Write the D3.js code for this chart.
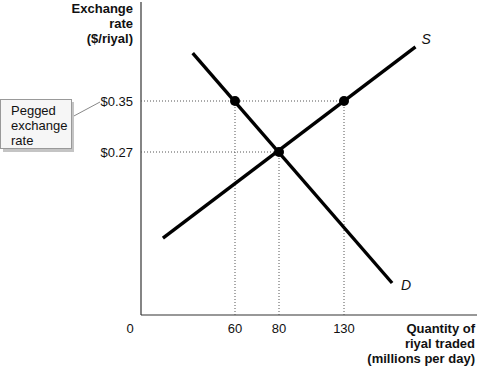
<!DOCTYPE html>
<html>
<head>
<meta charset="utf-8">
<script src="https://cdn.jsdelivr.net/npm/d3@7"></script>
<style>
  body { margin: 0; background: #fff; }
  text { font-family: "Liberation Sans", Arial, Helvetica, sans-serif; fill: #111; }
</style>
</head>
<body>
<svg id="chart" width="477" height="368"></svg>
<script>
// quantity ticks (millions per day) and price ticks ($/riyal)
var qTicks = [60, 80, 130];
var pTicks = [0.27, 0.35];
var pLabels = ["$0.27", "$0.35"];

// curve endpoints [quantity, price]
var supply = [[14, 0.1275], [185, 0.435]];
var demand = [[33, 0.425], [167, 0.053]];

// marked points [quantity, price]
var points = [[60, 0.35], [80, 0.27], [130, 0.35]];

var svg = d3.select("#chart");

// schematic axes, not to scale -> piecewise scales
var x = d3.scaleLinear()
    .domain([0, 60, 80, 130])
    .range([141, 235, 279, 344]);
var y = d3.scaleLinear()
    .domain([0, 0.27, 0.35])
    .range([315, 152, 101]);

// axes
svg.append("line")
    .attr("x1", x(0)).attr("x2", x(0))
    .attr("y1", 2).attr("y2", y(0))
    .attr("stroke", "#333").attr("stroke-width", 1.2);
svg.append("line")
    .attr("x1", x(0)).attr("x2", 477)
    .attr("y1", y(0)).attr("y2", y(0))
    .attr("stroke", "#333").attr("stroke-width", 1.2);

// dotted guide lines
var guides = svg.append("g")
    .attr("stroke", "#555")
    .attr("stroke-width", 1)
    .attr("stroke-dasharray", "1,2");
guides.append("line")
    .attr("x1", x(0)).attr("x2", x(130))
    .attr("y1", y(0.35)).attr("y2", y(0.35));
guides.append("line")
    .attr("x1", x(0)).attr("x2", x(80))
    .attr("y1", y(0.27)).attr("y2", y(0.27));
guides.selectAll("line.v")
    .data(points)
    .enter().append("line")
    .attr("class", "v")
    .attr("x1", function(d) { return x(d[0]); })
    .attr("x2", function(d) { return x(d[0]); })
    .attr("y1", function(d) { return y(d[1]); })
    .attr("y2", y(0));

// supply and demand
var line = d3.line()
    .x(function(d) { return x(d[0]); })
    .y(function(d) { return y(d[1]); });

[supply, demand].forEach(function(c) {
    svg.append("path")
        .attr("d", line(c))
        .attr("fill", "none")
        .attr("stroke", "#000")
        .attr("stroke-width", 3.4);
});

svg.selectAll("circle")
    .data(points)
    .enter().append("circle")
    .attr("cx", function(d) { return x(d[0]); })
    .attr("cy", function(d) { return y(d[1]); })
    .attr("r", 5)
    .attr("fill", "#000");

svg.append("text")
    .attr("x", x(supply[1][0]) + 6).attr("y", y(supply[1][1]) - 3)
    .style("font-size", "14px").style("font-style", "italic")
    .text("S");
svg.append("text")
    .attr("x", x(demand[1][0]) + 9).attr("y", y(demand[1][1]) + 7)
    .style("font-size", "14px").style("font-style", "italic")
    .text("D");

// tick labels
svg.selectAll("text.ptick")
    .data(pTicks)
    .enter().append("text")
    .attr("class", "ptick")
    .attr("x", 133)
    .attr("y", function(d) { return y(d) + 5; })
    .attr("text-anchor", "end")
    .style("font-size", "13px")
    .text(function(d, i) { return pLabels[i]; });

svg.selectAll("text.qtick")
    .data(qTicks)
    .enter().append("text")
    .attr("class", "qtick")
    .attr("x", function(d) { return x(d); })
    .attr("y", 333)
    .attr("text-anchor", "middle")
    .style("font-size", "13px")
    .text(function(d) { return d; });
svg.append("text")
    .attr("x", x(0) - 11).attr("y", 333)
    .attr("text-anchor", "middle")
    .style("font-size", "13px")
    .text("0");

// axis titles
var yTitle = ["Exchange", "rate", "($/riyal)"];
svg.selectAll("text.ytitle")
    .data(yTitle)
    .enter().append("text")
    .attr("class", "ytitle")
    .attr("x", 133)
    .attr("y", function(d, i) { return 13 + i * 15; })
    .attr("text-anchor", "end")
    .style("font-size", "13px").style("font-weight", "bold")
    .text(function(d) { return d; });

var xTitle = ["Quantity of", "riyal traded", "(millions per day)"];
svg.selectAll("text.xtitle")
    .data(xTitle)
    .enter().append("text")
    .attr("class", "xtitle")
    .attr("x", 475)
    .attr("y", function(d, i) { return 333 + i * 15; })
    .attr("text-anchor", "end")
    .style("font-size", "13px").style("font-weight", "bold")
    .text(function(d) { return d; });

// callout box
svg.append("line")
    .attr("x1", 72).attr("y1", 117)
    .attr("x2", 100).attr("y2", 102)
    .attr("stroke", "#888").attr("stroke-width", 1);
svg.append("rect")
    .attr("x", 3).attr("y", 102)
    .attr("width", 71).attr("height", 50)
    .attr("fill", "#c4c4c4");
svg.append("rect")
    .attr("x", 0.5).attr("y", 99.5)
    .attr("width", 71).attr("height", 49)
    .attr("fill", "#f6f6f6")
    .attr("stroke", "#999");
var note = ["Pegged", "exchange", "rate"];
svg.selectAll("text.note")
    .data(note)
    .enter().append("text")
    .attr("class", "note")
    .attr("x", 11)
    .attr("y", function(d, i) { return 115 + i * 15; })
    .style("font-size", "13px")
    .text(function(d) { return d; });
</script>
</body>
</html>
